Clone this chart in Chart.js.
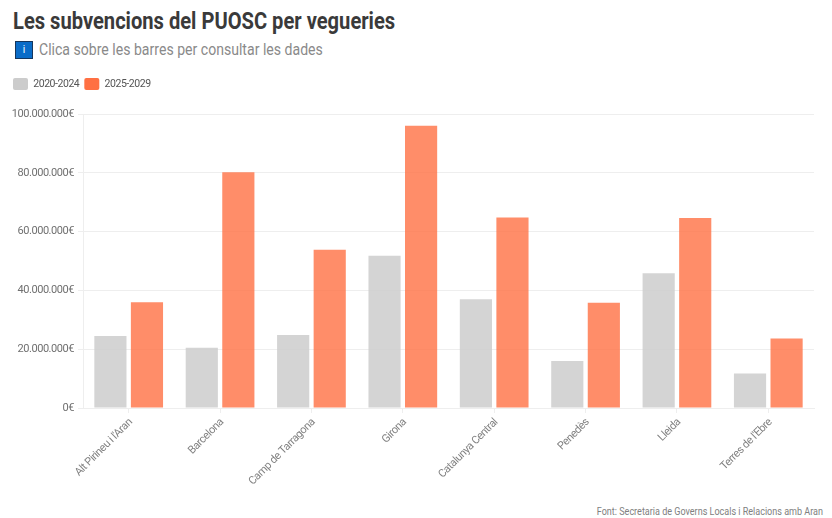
<!DOCTYPE html>
<html>
<head>
<meta charset="utf-8">
<script src="https://cdn.jsdelivr.net/npm/chart.js@4"></script>
<style>
  html, body { margin: 0; padding: 0; background: #fff; }
  body { width: 832px; height: 518px; position: relative; overflow: hidden; font-family: Roboto, sans-serif; }
  #title { position: absolute; left: 13px; top: 8px; font-size: 23px; font-weight: 700; color: #3a3a3a; transform: scaleX(.875); transform-origin: left; white-space: nowrap; }
  #sub { position: absolute; left: 39px; top: 40px; font-size: 16.5px; color: #8a8a8a; transform: scaleX(.853); transform-origin: left; white-space: nowrap; }
  #info { position: absolute; left: 15px; top: 41px; width: 18px; height: 18px; background: #0a6cc8; border: 1px solid #16365c; box-sizing: border-box; color: #fff; font-size: 10px; line-height: 16px; text-align: center; }
  #font { position: absolute; right: 9px; top: 505px; font-size: 10.5px; color: #808080; transform: scaleX(.86); transform-origin: right; white-space: nowrap; }
  #wrap { position: absolute; left: 0; top: 73px; width: 832px; height: 427px; }
</style>
</head>
<body>
<div id="title">Les subvencions del PUOSC per vegueries</div>
<div id="info">i</div>
<div id="sub">Clica sobre les barres per consultar les dades</div>
<div id="wrap"><canvas id="myChart"></canvas></div>
<div id="font">Font: Secretaria de Governs Locals i Relacions amb Aran</div>
<script>
const categories = ["Alt Pirineu i l'Aran", 'Barcelona', 'Camp de Tarragona', 'Girona', 'Catalunya Central', 'Penedès', 'Lleida', "Terres de l'Ebre"];
const values2020 = [24500000, 20500000, 24800000, 51800000, 37000000, 16000000, 45800000, 11700000];
const values2025 = [36000000, 80200000, 53800000, 96000000, 64800000, 35800000, 64600000, 23600000];
const ticks = ['0€', '20.000.000€', '40.000.000€', '60.000.000€', '80.000.000€', '100.000.000€'];
const legendColors = ['#cccccc', '#ff7043'];

// narrower text and a fixed legend height, the canvas has no condensed Roboto
const tweaks = {
  id: 'tweaks',
  beforeInit(chart) {
    const fit = chart.legend.fit;
    chart.legend.fit = function () {
      fit.call(this);
      this.height = 41;
    };
  },
  beforeLayout(chart) {
    chart.ctx.letterSpacing = '-0.45px';
  },
  beforeDraw(chart) {
    chart.ctx.letterSpacing = '-0.45px';
  },
};

new Chart(document.getElementById('myChart'), {
  type: 'bar',
  plugins: [tweaks],
  data: {
    labels: categories,
    datasets: [
      { label: '2020-2024', data: values2020, backgroundColor: 'rgba(204,204,204,.85)' },
      { label: '2025-2029', data: values2025, backgroundColor: 'rgba(255,112,67,.8)' },
    ],
  },
  options: {
    responsive: true,
    maintainAspectRatio: false,
    animation: false,
    devicePixelRatio: 1,
    datasets: { bar: { categoryPercentage: 0.8, barPercentage: 0.88 } },
    layout: { padding: { left: 8, right: 18, top: 0, bottom: 0 } },
    plugins: {
      tooltip: { enabled: false },
      legend: {
        align: 'start',
        labels: {
          boxWidth: 15,
          boxHeight: 12,
          padding: 5,
          color: '#555',
          useBorderRadius: true,
          borderRadius: 2,
          font: { family: 'Roboto', size: 10.5 },
          generateLabels: (chart) => Chart.defaults.plugins.legend.labels.generateLabels(chart).map((item, i) => ({
            ...item,
            fillStyle: legendColors[i],
            lineWidth: 0,
          })),
        },
      },
    },
    scales: {
      x: {
        afterFit: (axis) => { axis.height = 92; },
        grid: { offset: false, drawOnChartArea: false, tickLength: 5, tickColor: '#eeeeee' },
        border: { color: '#eeeeee' },
        ticks: { color: '#808080', labelOffset: 2, maxRotation: 45, minRotation: 45, font: { family: 'Roboto', size: 11 } },
      },
      y: {
        min: 0,
        max: 100000000,
        afterFit: (axis) => { axis.width = 75; },
        grid: { color: '#eeeeee', tickLength: 5 },
        border: { color: '#eeeeee' },
        ticks: {
          stepSize: 20000000,
          padding: 4,
          color: '#707070',
          font: { family: 'Roboto', size: 11 },
          callback: (value, i) => ticks[i],
        },
      },
    },
  },
});
</script>
</body>
</html>
